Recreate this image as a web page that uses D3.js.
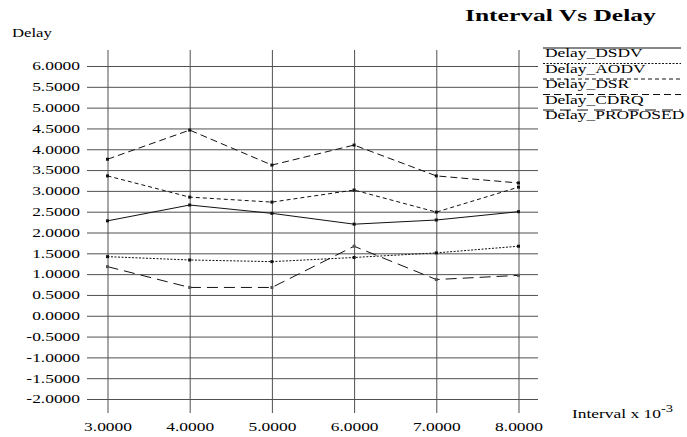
<!DOCTYPE html>
<html>
<head>
<meta charset="utf-8">
<script src="https://cdn.jsdelivr.net/npm/d3@7"></script>
<style>
  html, body { margin: 0; padding: 0; background: #fff; }
  svg { display: block; }
  text { font-family: "Liberation Serif", "Times New Roman", serif; fill: #000; }
</style>
</head>
<body>
<svg id="chart" width="687" height="437"></svg>
<script>
// ---- data ----
const intervals = [3, 4, 5, 6, 7, 8];
const seriesNames = ["Delay_DSDV", "Delay_AODV", "Delay_DSR", "Delay_CDRQ", "Delay_PROPOSED"];
const delayDSDV = [2.28, 2.66, 2.46, 2.20, 2.30, 2.50];
const delayAODV = [1.42, 1.34, 1.30, 1.40, 1.51, 1.67];
const delayDSR = [3.36, 2.85, 2.73, 3.02, 2.49, 3.09];
const delayCDRQ = [3.76, 4.46, 3.62, 4.10, 3.36, 3.19];
const delayPROPOSED = [1.18, 0.68, 0.68, 1.67, 0.87, 0.97];
const yTicks = [-2, -1.5, -1, -0.5, 0, 0.5, 1, 1.5, 2, 2.5, 3, 3.5, 4, 4.5, 5, 5.5, 6];
const xTicks = [3, 4, 5, 6, 7, 8];
const titleText = "Interval Vs Delay";
const yTitle = "Delay";
const xTitle = "Interval x 10";
const xTitleExp = "-3";

const allSeries = [delayDSDV, delayAODV, delayDSR, delayCDRQ, delayPROPOSED];
const dashes = [null, "2,1.5", "4,3", "7,4", "11,6"];
const SX = 1.45; // horizontal stretch of the original image text

const svg = d3.select("#chart");

const x = d3.scaleLinear().domain([3, 8]).range([107.5, 518.5]);
const y = d3.scaleLinear().domain([-2, 6]).range([399, 66]);

const gridColor = "#505050";

// y axis / horizontal grid
const gy = svg.append("g")
  .attr("transform", "translate(87,0)")
  .call(d3.axisLeft(y).tickValues(yTicks).tickSizeInner(-451).tickSizeOuter(0).tickPadding(7)
    .tickFormat(d => d.toFixed(4)));
gy.select(".domain").remove();
gy.selectAll(".tick line").attr("stroke", gridColor).attr("stroke-width", 1);
gy.selectAll(".tick text").attr("font-size", 12).attr("font-family", "Liberation Serif");

// x axis / vertical grid
const gx = svg.append("g")
  .attr("transform", "translate(0,413)")
  .call(d3.axisBottom(x).tickValues(xTicks).tickSizeInner(-363).tickSizeOuter(0).tickPadding(9)
    .tickFormat(d => d.toFixed(4)));
gx.select(".domain").remove();
gx.selectAll(".tick line").attr("stroke", gridColor).attr("stroke-width", 1);
gx.selectAll(".tick text").attr("font-size", 12).attr("font-family", "Liberation Serif");

// series lines
const line = d3.line().x((d, i) => x(intervals[i])).y(d => y(d));
allSeries.forEach((s, k) => {
  svg.append("path")
    .datum(s)
    .attr("d", line)
    .attr("fill", "none")
    .attr("stroke", "#111")
    .attr("stroke-width", 1)
    .attr("stroke-dasharray", dashes[k]);
  svg.append("g").selectAll("rect")
    .data(s)
    .join("rect")
    .attr("x", (d, i) => x(intervals[i]) - 1.5)
    .attr("y", d => y(d) - 1.5)
    .attr("width", 3)
    .attr("height", 3)
    .attr("fill", k === 4 ? "#555" : "#111");
});

// titles
svg.append("text").attr("data-sx", 1.5)
  .attr("x", 465).attr("y", 21)
  .attr("font-size", 17).attr("font-weight", "bold")
  .text(titleText);

svg.append("text")
  .attr("x", 12).attr("y", 37)
  .attr("font-size", 11.5)
  .text(yTitle);

const xt = svg.append("text")
  .attr("x", 572).attr("y", 418)
  .attr("font-size", 12);
xt.append("tspan").text(xTitle);
xt.append("tspan").attr("dy", -6).attr("font-size", 10).text(xTitleExp);

// legend
const lg = svg.append("g");
seriesNames.forEach((name, i) => {
  const ly = 48 + i * 15.5;
  lg.append("line")
    .attr("x1", 543).attr("x2", 681)
    .attr("y1", ly).attr("y2", ly)
    .attr("stroke", "#111").attr("stroke-width", 1)
    .attr("stroke-dasharray", dashes[i]);
  lg.append("text")
    .attr("x", 545).attr("y", ly + 9)
    .attr("font-size", 12)
    .text(name);
});

// horizontally stretch text to match the reference's aspect
svg.selectAll("text").each(function () {
  const sx = +(this.getAttribute("data-sx") || SX);
  const len = this.getComputedTextLength();
  d3.select(this).attr("textLength", len * sx).attr("lengthAdjust", "spacingAndGlyphs");
});
</script>
</body>
</html>
